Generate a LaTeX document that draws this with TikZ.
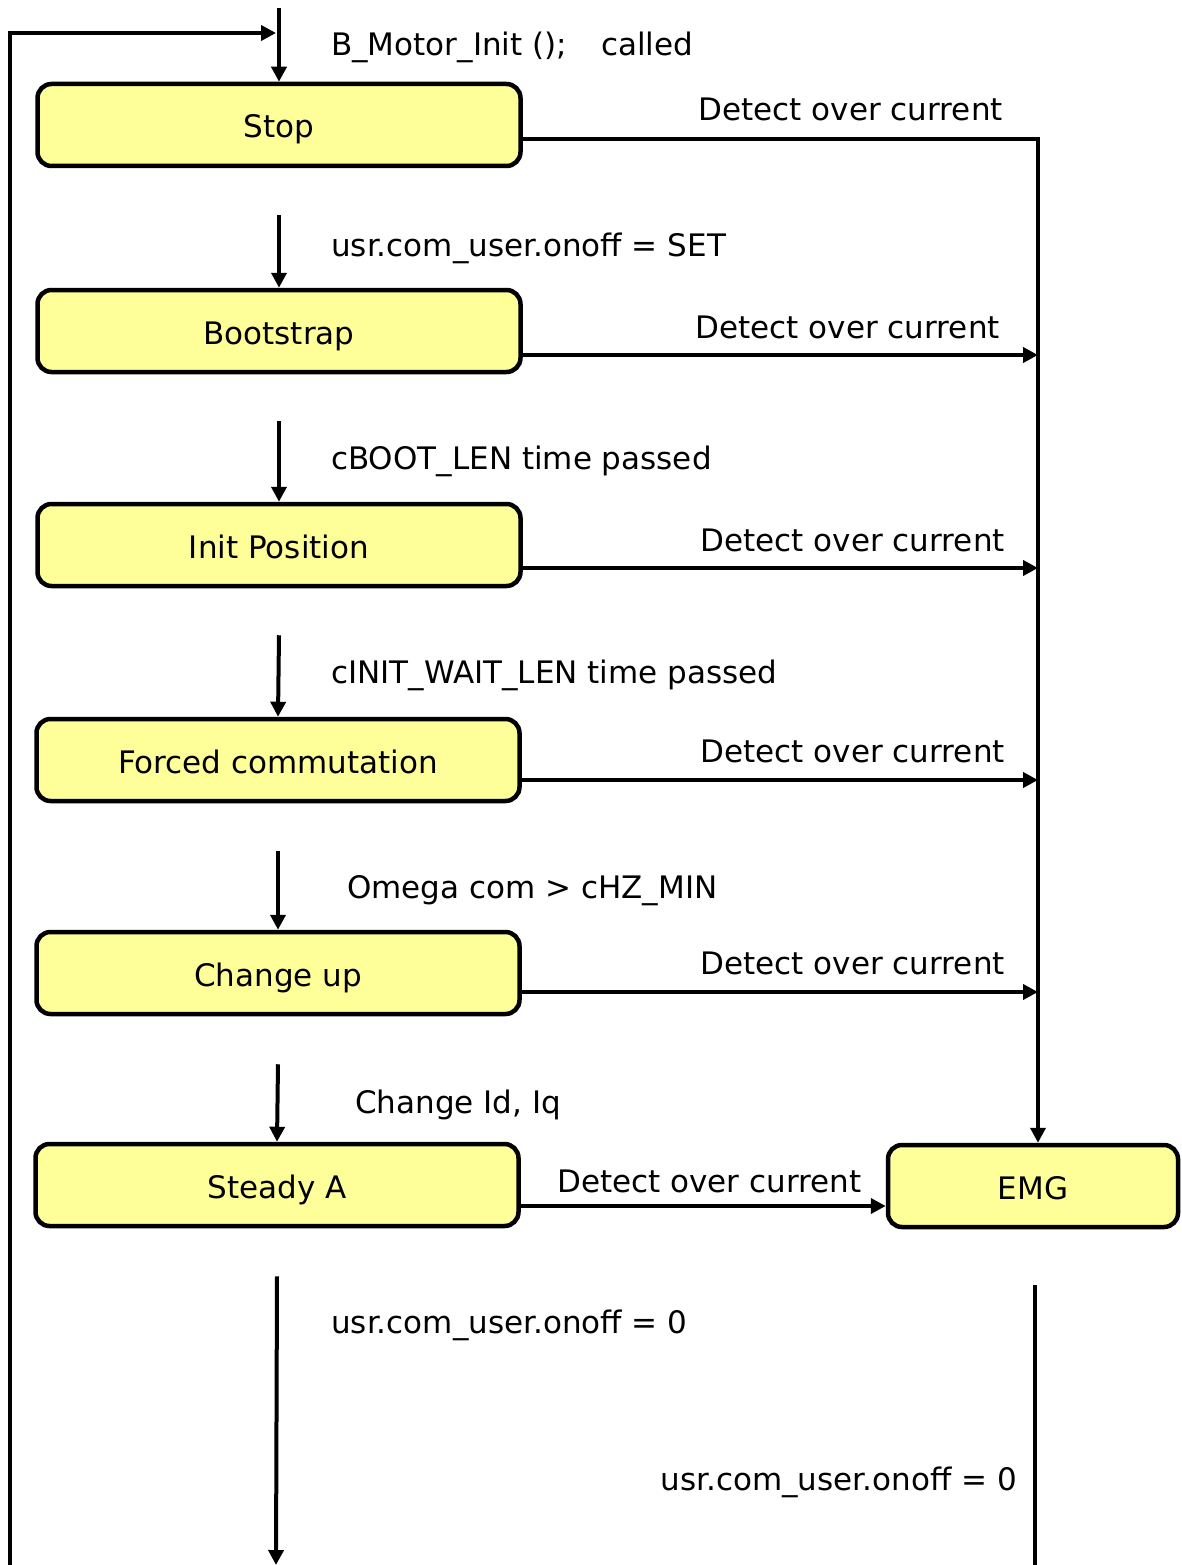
\documentclass[tikz,border=0pt]{standalone}
\usepackage{fontspec}
\setmainfont{DejaVu Sans}
\usetikzlibrary{arrows.meta}
\definecolor{stateyellow}{HTML}{FFFF99}
\tikzset{
    state/.style={draw, line width=4.5pt, fill=stateyellow, rounded corners=14pt,
        minimum width=483pt, minimum height=82pt, text height=28pt, text depth=2pt,
        font=\fontsize{31}{37}\selectfont},
    flow/.style={line width=4pt, -{Triangle[length=15pt,width=15pt]}},
    wire/.style={line width=4pt},
    cond/.style={anchor=base west, inner sep=0pt, font=\fontsize{31}{37}\selectfont},
    fault/.style={anchor=base east, inner sep=0pt, font=\fontsize{31}{37}\selectfont},
}
\begin{document}
\begin{tikzpicture}[x=1pt,y=-1pt]
    \useasboundingbox (0,0) rectangle (1182,1565);
    % states
    \node[state] (stop) at (279,125) {Stop};
    \node[state] (boot) at (279,331) {Bootstrap};
    \node[state] (init) at (279,545) {Init Position};
    \node[state] (forced) at (278,760) {Forced commutation};
    \node[state] (change) at (278,973) {Change up};
    \node[state] (steady) at (277,1185) {Steady A};
    \node[state, minimum width=290pt] (emg) at (1033,1186) {EMG};
    % free ends
    \coordinate (entry) at (279,8);
    \coordinate (loopStart) at (10,1565);
    \coordinate (loopEnd) at (276,33);
    \coordinate (steadyEnd) at (276,1565);
    \coordinate (emgEnd) at (1035,1565);
    \coordinate (bus) at ([xshift=5pt]emg.north);
    % main sequence
    \draw[flow] (entry) -- (stop.north);
    \draw[flow] (loopStart) |- (loopEnd);
    \draw[flow] ([yshift=-47pt]stop.south) -- (boot.north);
    \draw[flow] ([yshift=-47pt]boot.south) -- (init.north);
    \draw[flow] ([yshift=-47pt]init.south) -- (forced.north);
    \draw[flow] ([yshift=-48pt]forced.south) -- (change.north);
    \draw[flow] ([yshift=-48pt]change.south) -- (steady.north);
    \draw[flow] ([yshift=-48pt]steady.south) -- (steadyEnd);
    % over current to EMG
    \draw[flow] ([yshift=-14pt]stop.east) -| (bus);
    \draw[flow] ([yshift=-24pt]boot.east) -- ([yshift=-24pt]boot.east -| bus);
    \draw[flow] ([yshift=-23pt]init.east) -- ([yshift=-23pt]init.east -| bus);
    \draw[flow] ([yshift=-20pt]forced.east) -- ([yshift=-20pt]forced.east -| bus);
    \draw[flow] ([yshift=-19pt]change.east) -- ([yshift=-19pt]change.east -| bus);
    \draw[flow] ([yshift=-21pt]steady.east) -- ([yshift=-21pt]steady.east -| emg.west);
    \draw[wire] ([yshift=-56pt]emg.south -| emgEnd) -- (emgEnd);
    % conditions
    \node[cond] (lbInit) at (331,56) {B\_Motor\_Init ();\hspace{1.1em}called};
    \node[cond] (lbSet) at (331,256) {usr.com\_user.onoff = SET};
    \node[cond] (lbBoot) at (331,469) {cBOOT\_LEN time passed};
    \node[cond] (lbWait) at (331,683) {cINIT\_WAIT\_LEN time passed};
    \node[cond] (lbOmega) at (347,898) {Omega com > cHZ\_MIN};
    \node[cond] (lbIdIq) at (355,1113) {Change Id, Iq};
    \node[cond] (lbOff) at (331,1333) {usr.com\_user.onoff = 0};
    \node[fault] (lbEmgOff) at (1017,1490) {usr.com\_user.onoff = 0};
    \node[fault] (ocStop) at (1003,121) {Detect over current};
    \node[fault] (ocBoot) at (1000,338) {Detect over current};
    \node[fault] (ocInit) at (1005,551) {Detect over current};
    \node[fault] (ocForced) at (1005,762) {Detect over current};
    \node[fault] (ocChange) at (1005,974) {Detect over current};
    \node[cond] (ocSteady) at (557,1192) {Detect over current};
\end{tikzpicture}
\end{document}
